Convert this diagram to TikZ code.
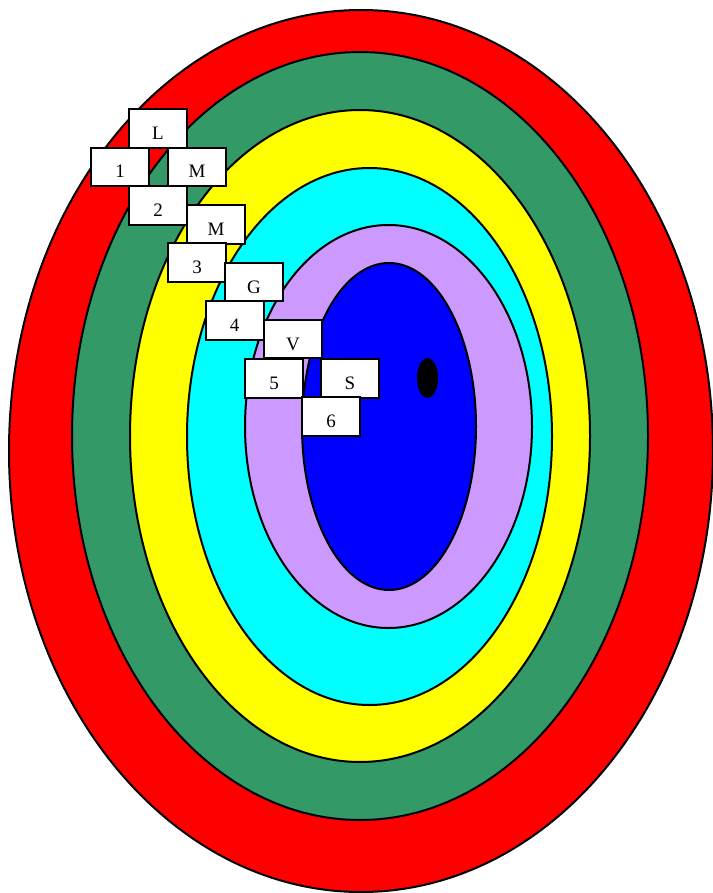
\documentclass[tikz,border=0pt]{standalone}
\usepackage{fontspec}
\setmainfont{Liberation Serif}
\usetikzlibrary{positioning}
\definecolor{ringred}{RGB}{255,0,0}
\definecolor{ringgreen}{RGB}{51,153,102}
\definecolor{ringyellow}{RGB}{255,255,0}
\definecolor{ringcyan}{RGB}{0,255,255}
\definecolor{ringlilac}{RGB}{204,153,255}
\definecolor{ringblue}{RGB}{0,0,255}
\tikzset{
  ring/.style={draw=black,line width=2pt},
  tag/.style={draw=black,fill=white,line width=2pt,inner sep=0pt,
              minimum width=58pt,minimum height=38.5pt,
              text height=22pt,text depth=0pt,
              font=\fontsize{19}{19}\selectfont},
}
\begin{document}
\begin{tikzpicture}[x=1pt,y=-1pt]
  \useasboundingbox (0,0) rectangle (712,893);
  % ---------------- rings, outside in ----------------
  \foreach \cx/\cy/\rx/\ry/\col in {361/451/352/441/ringred,
      360/436/288/384/ringgreen, 360/436/230/326/ringyellow,
      369.5/436.5/182.5/268.5/ringcyan, 388.5/426.5/143.5/201.5/ringlilac,
      389/426.5/87/163.5/ringblue}{
    \draw[ring,fill=\col] (\cx,\cy) ellipse [x radius=\rx,y radius=\ry];}
  % ---------------- centre dot ----------------
  \fill[black] (427.5,378) ellipse [x radius=10.5,y radius=20];
  % ---------------- tags ----------------
  \node[tag] (tagL)  at (158,128.5) {L};
  \node[tag] (tag1)  at (120,167)   {1};
  \node[tag] (tagMa) at (197,167)   {M};
  \node[tag] (tag2)  at (158,205.5) {2};
  \node[tag] (tagMb) at (216,224.5) {M};
  \node[tag] (tag3)  at (197,262.5) {3};
  \node[tag] (tagG)  at (254,282)   {G};
  \node[tag] (tag4)  at (234.5,320.5) {4};
  \node[tag] (tagV)  at (293,339)   {V};
  \node[tag] (tag5)  at (274,378.5) {5};
  \node[tag] (tagS)  at (350,378.5) {S};
  \node[tag] (tag6)  at (331,416.5) {6};
\end{tikzpicture}
\end{document}
